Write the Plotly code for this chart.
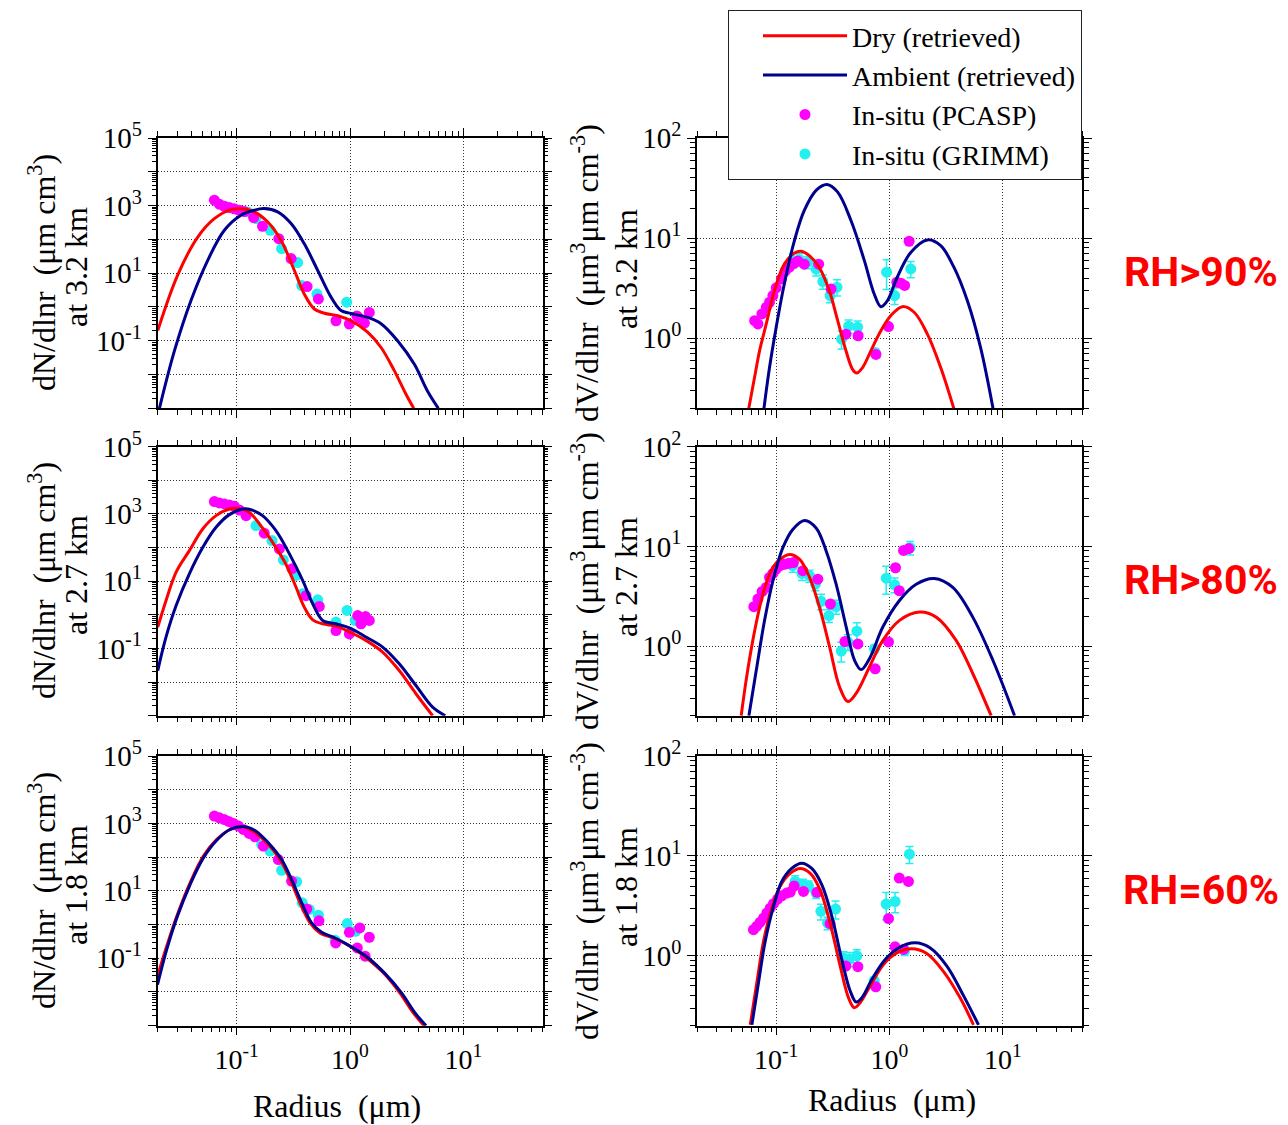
import plotly.graph_objects as go

# ---------------- DATA ----------------
# Row 1 : 3.2 km (RH>90%)
n1_dry_r = [0.0201,0.030,0.0453,0.0635,0.089,0.109,0.143,0.188,0.246,0.323,0.395,0.484,0.594,0.778,1.02,1.43,1.88,2.46,3.12,3.65]
n1_dry = [0.2,8.5,117,410,760,800,650,325,94,12,2.4,0.87,0.65,0.55,0.39,0.18,0.063,0.013,0.0026,0.001]
n1_amb_r = [0.0208,0.0282,0.0395,0.0555,0.0778,0.109,0.143,0.175,0.230,0.302,0.395,0.519,0.68,0.833,1.02,1.43,1.88,2.63,3.70,4.84,6.02]
n1_amb = [0.001,0.05,1.55,24,186,516,730,815,650,293,74,12,1.95,0.78,0.64,0.49,0.32,0.1,0.020,0.0032,0.001]
n1_pcasp_r = [0.0635,0.0703,0.0778,0.086,0.0953,0.1056,0.117,0.141,0.169,0.235,0.302,0.418,0.526,0.752,0.986,1.15,1.21,1.34,1.48]
n1_pcasp = [1440,1100,955,870,800,727,665,440,243,105,27,4.0,1.73,0.39,0.31,0.54,0.46,0.33,0.69]
n1_grimm_r = [0.125,0.148,0.198,0.249,0.345,0.375,0.511,0.935]
n1_grimm = [650,410,185,53,20.5,4.3,2.4,1.38]

v1_dry_r = [0.0571,0.0645,0.0713,0.0817,0.0966,0.118,0.145,0.166,0.196,0.240,0.294,0.349,0.413,0.472,0.513,0.578,0.685,0.839,1.03,1.30,1.65,2.16,2.83,3.71]
v1_dry = [0.196,0.41,0.75,1.39,3.0,5.5,7.1,7.4,6.7,5.1,3.0,1.50,0.75,0.49,0.45,0.51,0.75,1.19,1.69,2.07,1.82,1.10,0.51,0.196]
v1_amb_r = [0.0778,0.0873,0.1,0.118,0.145,0.177,0.225,0.281,0.349,0.457,0.599,0.733,0.839,0.96,1.17,1.54,2.16,2.83,3.71,4.86,6.36,8.22]
v1_amb = [0.196,0.51,1.29,3.5,9.5,18.9,30,34.4,28.8,15,6.0,2.77,2.07,2.38,4.07,7.2,9.6,8.4,5.1,2.38,0.81,0.196]
v1_pcasp_r = [0.0645,0.069,0.0748,0.0817,0.0873,0.0935,0.1,0.111,0.12,0.131,0.143,0.155,0.177,0.237,0.305,0.413,0.529,0.759,0.98,1.16,1.26,1.36,1.49]
v1_pcasp = [1.50,1.39,1.75,2.04,2.29,2.67,3.19,3.92,4.68,5.13,5.6,5.9,5.5,5.5,3.1,1.10,1.06,0.69,1.31,3.63,3.55,3.37,9.3]
v1_grimm_r = [0.140,0.160,0.19,0.225,0.258,0.299,0.344,0.378,0.436,0.523,0.748,0.942,1.11,1.54]
v1_grimm = [6.0,6.1,5.75,4.9,3.69,2.67,3.24,0.98,1.32,1.29,0.72,4.57,2.67,4.93]
v1_grimm_err = [1.0,0.9,0.8,0.7,0.6,0.4,0.6,0.2,0.2,0.2,0.06,1.5,0.5,0.9]

# Row 2 : 2.7 km (RH>80%)
n2_dry_r = [0.0201,0.0238,0.0292,0.0382,0.0501,0.0657,0.0861,0.1056,0.129,0.169,0.222,0.272,0.334,0.395,0.469,0.574,0.752,0.987,1.38,1.94,2.72,3.82,5.36]
n2_dry = [0.43,2.67,18.6,81,357,890,1400,1440,1120,383,100,32,6.6,1.69,0.71,0.54,0.46,0.31,0.174,0.078,0.022,0.0045,0.001]
n2_amb_r = [0.0201,0.0238,0.0292,0.0382,0.0501,0.0657,0.0861,0.113,0.129,0.169,0.222,0.292,0.382,0.469,0.574,0.752,0.987,1.38,1.94,2.72,3.82,5.36,6.93]
n2_amb = [0.022,0.22,1.89,16.6,100,400,955,1400,1380,890,318,65,10.5,2.13,0.68,0.54,0.41,0.22,0.11,0.035,0.0079,0.0018,0.001]
n2_pcasp_r = [0.0635,0.0703,0.0778,0.0861,0.0953,0.1056,0.121,0.175,0.238,0.308,0.409,0.536,0.752,0.987,1.17,1.25,1.37,1.48]
n2_pcasp = [2330,2130,1980,1850,1690,1310,890,267,91,23.5,3.7,1.78,0.34,0.27,0.95,0.54,0.89,0.68]
n2_grimm_r = [0.148,0.205,0.258,0.334,0.382,0.519,0.752,0.942,1.11]
n2_grimm = [450,162,43,14.8,4.2,2.8,0.61,1.35,0.68]

v2_dry_r = [0.0491,0.0543,0.0622,0.0738,0.0873,0.1035,0.131,0.161,0.197,0.241,0.296,0.362,0.429,0.508,0.667,0.873,1.22,1.84,2.58,3.87,5.43,7.89]
v2_dry = [0.2,0.455,1.14,2.85,5.25,7.1,8.3,7.4,4.88,2.45,0.98,0.39,0.277,0.335,0.62,1.14,1.80,2.19,1.95,1.14,0.53,0.2]
v2_amb_r = [0.0574,0.0667,0.0789,0.0935,0.1145,0.140,0.178,0.225,0.276,0.338,0.415,0.491,0.562,0.667,0.873,1.22,1.72,2.49,3.62,5.43,8.17,12.7]
v2_amb = [0.2,0.57,1.80,4.5,9.7,14.8,18.2,15.3,9.0,4.17,1.55,0.72,0.58,0.75,1.55,2.85,4.17,4.76,3.87,1.95,0.72,0.2]
v2_pcasp_r = [0.0635,0.0689,0.0752,0.0817,0.0873,0.0935,0.1,0.108,0.118,0.129,0.142,0.172,0.233,0.301,0.404,0.526,0.748,0.98,1.13,1.22,1.33,1.48]
v2_pcasp = [2.48,2.96,3.53,3.87,4.88,5.35,5.9,6.4,6.6,6.77,6.87,5.7,4.69,2.64,1.11,1.05,0.59,1.10,6.1,3.59,9.1,9.5]
v2_grimm_r = [0.140,0.169,0.197,0.222,0.249,0.292,0.338,0.375,0.429,0.515,0.738,0.935,1.11,1.52]
v2_grimm = [6.4,5.35,5.06,4.18,2.81,2.02,2.48,0.89,1.10,1.41,0.94,4.8,4.12,9.7]
v2_grimm_err = [0.9,0.8,0.7,0.6,0.5,0.3,0.4,0.2,0.2,0.3,0.08,1.5,0.7,1.5]

# Row 3 : 1.8 km (RH=60%)
n3_dry_r = [0.02,0.0241,0.0296,0.0388,0.0508,0.0667,0.0873,0.111,0.140,0.184,0.241,0.296,0.362,0.444,0.543,0.713,1.0,1.40,1.97,2.76,3.62,4.50]
n3_dry = [0.029,0.227,1.77,17.3,107,335,660,795,590,267,85,21.8,4.4,1.12,0.565,0.40,0.227,0.102,0.037,0.0093,0.0024,0.001]
n3_amb_r = [0.02,0.0241,0.0296,0.0388,0.0508,0.0667,0.0873,0.1145,0.145,0.19,0.249,0.305,0.375,0.459,0.562,0.738,1.03,1.45,2.04,2.86,3.75,4.69]
n3_amb = [0.0166,0.18,1.58,15.4,95,318,660,815,620,267,85,21.8,4.4,1.12,0.59,0.40,0.218,0.102,0.035,0.0093,0.0024,0.001]
n3_pcasp_r = [0.0635,0.0703,0.0773,0.085,0.0935,0.1035,0.1145,0.129,0.145,0.172,0.233,0.305,0.415,0.532,0.748,0.987,1.16,1.22,1.36,1.48]
n3_pcasp = [1650,1470,1315,1145,1000,833,665,505,400,213,85,19.5,2.9,1.29,0.285,0.59,0.203,0.795,0.115,0.42]
n3_grimm_r = [0.166,0.197,0.249,0.338,0.379,0.437,0.526,0.738,0.946,1.12]
n3_grimm = [238,151,40.7,18.6,4.4,2.8,1.89,0.343,1.07,0.63]

v3_dry_r = [0.059,0.0675,0.0773,0.0916,0.108,0.133,0.163,0.2,0.244,0.299,0.367,0.435,0.488,0.551,0.675,0.885,1.16,1.57,2.13,2.99,4.2,5.51]
v3_dry = [0.204,0.54,1.40,3.0,4.94,6.7,7.5,6.7,4.58,2.13,0.79,0.38,0.303,0.34,0.50,0.82,1.07,1.175,1.055,0.70,0.38,0.204]
v3_amb_r = [0.061,0.0698,0.08,0.0947,0.112,0.137,0.168,0.206,0.253,0.31,0.379,0.45,0.508,0.57,0.698,0.916,1.2,1.68,2.29,3.21,4.5,6.1]
v3_amb = [0.204,0.54,1.40,3.13,5.55,7.5,8.45,7.5,5.14,2.48,0.92,0.445,0.345,0.38,0.58,0.92,1.20,1.35,1.20,0.79,0.40,0.204]
v3_pcasp_r = [0.063,0.0675,0.0722,0.0773,0.0828,0.0885,0.0947,0.103,0.112,0.124,0.133,0.144,0.174,0.229,0.299,0.412,0.526,0.757,0.98,1.12,1.22,1.33,1.47]
v3_pcasp = [1.83,1.98,2.17,2.39,2.69,3.0,3.33,3.7,3.99,4.25,4.35,5.0,4.41,4.32,2.1,0.79,0.78,0.49,2.36,1.23,6.0,1.16,5.55]
v3_grimm_r = [0.147,0.172,0.193,0.225,0.248,0.284,0.334,0.393,0.444,0.515,0.733,0.935,1.12,1.36,1.5]
v3_grimm = [5.55,5.14,5.0,4.25,2.79,2.13,2.94,0.95,0.93,1.0,0.56,3.3,3.5,1.13,10.4]
v3_grimm_err = [0.8,0.7,0.6,0.5,0.5,0.3,0.6,0.15,0.15,0.15,0.05,1.0,0.8,0.12,2.0]

altitudes = ["3.2", "2.7", "1.8"]
rh_labels = ["RH&gt;90%", "RH&gt;80%", "RH=60%"]
legend_names = ["Dry (retrieved)", "Ambient (retrieved)", "In-situ (PCASP)", "In-situ (GRIMM)"]

x_tickvals = [0.1, 1, 10]
x_ticktext = ["10<sup>-1</sup>", "10<sup>0</sup>", "10<sup>1</sup>"]
n_tickvals = [1e-3, 1e-2, 1e-1, 1, 10, 100, 1e3, 1e4, 1e5]
n_ticktext = ["", "", "10<sup>-1</sup>", "", "10<sup>1</sup>", "", "10<sup>3</sup>", "", "10<sup>5</sup>"]
v_tickvals = [1, 10, 100]
v_ticktext = ["10<sup>0</sup>", "10<sup>1</sup>", "10<sup>2</sup>"]

# ---------------- STYLE / LAYOUT ----------------
W, H = 1288, 1125
OFF = 8  # page body margin
SERIF = "Liberation Serif, Times New Roman, serif"
RED, NAVY, MAG, CYAN = "#FF0000", "#00008F", "#FF00FF", "#22F0F0"

def px(x):
    return (x - OFF) / W

def py(y):
    return 1 - (y - OFF) / H

col_dom = [[px(157.5), px(542.5)], [px(697), px(1082)]]
row_px = [(138, 408.3), (446.7, 715.7), (756, 1025.7)]
row_dom = [[py(b), py(t)] for t, b in row_px]

def decade_minor(lo, hi):
    out = []
    for e in range(lo, hi):
        for k in range(2, 10):
            out.append(k * 10 ** e)
    return out

panels = [
    (0, 0, n1_dry_r, n1_dry, n1_amb_r, n1_amb, n1_pcasp_r, n1_pcasp, n1_grimm_r, n1_grimm, None),
    (0, 1, v1_dry_r, v1_dry, v1_amb_r, v1_amb, v1_pcasp_r, v1_pcasp, v1_grimm_r, v1_grimm, v1_grimm_err),
    (1, 0, n2_dry_r, n2_dry, n2_amb_r, n2_amb, n2_pcasp_r, n2_pcasp, n2_grimm_r, n2_grimm, None),
    (1, 1, v2_dry_r, v2_dry, v2_amb_r, v2_amb, v2_pcasp_r, v2_pcasp, v2_grimm_r, v2_grimm, v2_grimm_err),
    (2, 0, n3_dry_r, n3_dry, n3_amb_r, n3_amb, n3_pcasp_r, n3_pcasp, n3_grimm_r, n3_grimm, None),
    (2, 1, v3_dry_r, v3_dry, v3_amb_r, v3_amb, v3_pcasp_r, v3_pcasp, v3_grimm_r, v3_grimm, v3_grimm_err),
]

fig = go.Figure()
layout = {}

axis_common = dict(
    type="log", showline=True, linecolor="black", linewidth=1.5, mirror="ticks",
    ticks="outside", tickcolor="black", tickwidth=1.2, ticklen=8,
    showgrid=True, gridcolor="#333333", griddash="1px,2px", gridwidth=1,
    zeroline=False,
)

for i, (r, c, dr, dv, ar, av, pr, pv, gr, gv, ge) in enumerate(panels):
    k = i + 1
    xa = "x" if k == 1 else f"x{k}"
    ya = "y" if k == 1 else f"y{k}"
    first = (k == 1)

    gkw = dict(x=gr, y=gv, mode="markers", xaxis=xa, yaxis=ya,
               marker=dict(color=CYAN, size=11), name=legend_names[3],
               legendrank=4, showlegend=first)
    if ge is not None:
        gkw["error_y"] = dict(type="data", array=ge, color=CYAN, thickness=1.5, width=4)
    fig.add_trace(go.Scatter(**gkw))
    fig.add_trace(go.Scatter(x=pr, y=pv, mode="markers", xaxis=xa, yaxis=ya,
                             marker=dict(color=MAG, size=11), name=legend_names[2],
                             legendrank=3, showlegend=first))
    fig.add_trace(go.Scatter(x=dr, y=dv, mode="lines", xaxis=xa, yaxis=ya,
                             line=dict(color=RED, width=3, shape="spline", smoothing=1.0),
                             name=legend_names[0], legendrank=1, showlegend=first))
    fig.add_trace(go.Scatter(x=ar, y=av, mode="lines", xaxis=xa, yaxis=ya,
                             line=dict(color=NAVY, width=3, shape="spline", smoothing=1.0),
                             name=legend_names[1], legendrank=2, showlegend=first))

    xkey = "xaxis" if k == 1 else f"xaxis{k}"
    ykey = "yaxis" if k == 1 else f"yaxis{k}"
    xd = dict(axis_common)
    xd.update(domain=col_dom[c], anchor=ya, range=[-1.699, 1.699],
              tickmode="array", tickvals=x_tickvals, ticktext=x_ticktext,
              showticklabels=(r == 2),
              tickfont=dict(family=SERIF, size=28, color="black"),
              minor=dict(tickmode="array", tickvals=decade_minor(-2, 2), ticks="outside",
                         ticklen=5, tickcolor="black", tickwidth=1, showgrid=False))
    yd = dict(axis_common)
    yd["tickfont"] = dict(family=SERIF, size=29, color="black")
    if c == 0:
        yd.update(domain=row_dom[r], anchor=xa, range=[-3, 5], tickmode="array",
                  tickvals=n_tickvals, ticktext=n_ticktext,
                  minor=dict(tickmode="array", tickvals=decade_minor(-3, 5), ticks="outside",
                             ticklen=4, tickcolor="black", tickwidth=1, showgrid=False))
    else:
        yd.update(domain=row_dom[r], anchor=xa, range=[-0.699, 2], tickmode="array",
                  tickvals=v_tickvals, ticktext=v_ticktext,
                  minor=dict(tickmode="array", tickvals=decade_minor(-1, 2), ticks="outside",
                             ticklen=5, tickcolor="black", tickwidth=1, showgrid=False))
    layout[xkey] = xd
    layout[ykey] = yd

TF = dict(family=SERIF, size=32, color="black")
annotations = []
row_centers = [273, 581, 891]
for r in range(3):
    yc = py(row_centers[r])
    annotations.append(dict(x=px(42), y=yc, xref="paper", yref="paper", textangle=-90,
                            text="dN/dlnr\u00a0\u00a0(\u03bcm cm<sup>3</sup>)", showarrow=False,
                            font=TF, xanchor="center", yanchor="middle"))
    annotations.append(dict(x=px(76), y=py(row_centers[r] - 6), xref="paper", yref="paper", textangle=-90,
                            text=f"at {altitudes[r]} km", showarrow=False,
                            font=TF, xanchor="center", yanchor="middle"))
    annotations.append(dict(x=px(585), y=yc, xref="paper", yref="paper", textangle=-90,
                            text="dV/dlnr\u00a0\u00a0(\u03bcm<sup>3</sup>\u03bcm cm<sup>-3</sup>)",
                            showarrow=False, font=TF, xanchor="center", yanchor="middle"))
    annotations.append(dict(x=px(626), y=py(row_centers[r] - 4), xref="paper", yref="paper", textangle=-90,
                            text=f"at {altitudes[r]} km", showarrow=False,
                            font=TF, xanchor="center", yanchor="middle"))
    annotations.append(dict(x=px(1201), y=py(row_centers[r] - 1), xref="paper", yref="paper",
                            text=f"<b>{rh_labels[r]}</b>", showarrow=False,
                            font=dict(family="Roboto, Liberation Sans, sans-serif", size=41, color="#FF0000"),
                            xanchor="center", yanchor="middle"))

annotations.append(dict(x=px(337), y=py(1106), xref="paper", yref="paper",
                        text="Radius\u00a0\u00a0(\u03bcm)", showarrow=False, font=TF,
                        xanchor="center", yanchor="middle"))
annotations.append(dict(x=px(892), y=py(1100), xref="paper", yref="paper",
                        text="Radius\u00a0\u00a0(\u03bcm)", showarrow=False, font=TF,
                        xanchor="center", yanchor="middle"))

fig.update_layout(
    width=W, height=H,
    margin=dict(l=0, r=0, t=0, b=0, autoexpand=False),
    paper_bgcolor="white", plot_bgcolor="white",
    showlegend=True,
    legend=dict(x=px(1082), y=py(10), xanchor="right", yanchor="top",
                bgcolor="white", bordercolor="#222222", borderwidth=1,
                font=dict(family=SERIF, size=28, color="black"),
                itemwidth=84, indentation=29, tracegroupgap=0, traceorder="normal"),
    annotations=annotations,
    **layout,
)

fig.write_html("out.html")
